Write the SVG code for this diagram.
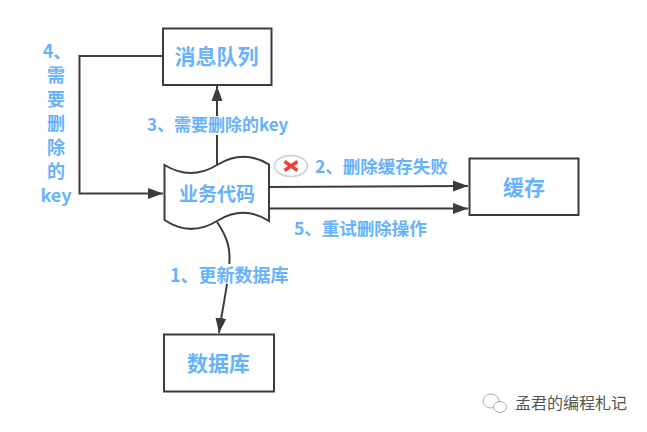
<svg xmlns="http://www.w3.org/2000/svg" width="647" height="432" viewBox="0 0 647 432">
<style>
.box{fill:#fff;stroke:#3c3c3c;stroke-width:2}
.ln{fill:none;stroke:#3c3c3c;stroke-width:2}
text{font-family:"Noto Sans CJK SC","Liberation Sans",sans-serif;fill:#66b2ff}
.n{font-size:21px;font-weight:700;text-anchor:middle}
.l{font-size:17px;font-weight:700}
.v{font-size:18px;font-weight:700;text-anchor:middle}
</style>
<defs>
<marker id="a" markerUnits="userSpaceOnUse" markerWidth="16" markerHeight="12" refX="15" refY="6" orient="auto"><path d="M0 0.500L15 6L0 11.500z" fill="#3c3c3c"/></marker>
</defs>
<rect width="647" height="432" fill="#fff"/>
<g id="connectors">
<path class="ln" marker-end="url(#a)" d="M217 165V86"/>
<path class="ln" marker-end="url(#a)" d="M162 56H79.500V193.500H163"/>
<path class="ln" marker-end="url(#a)" d="M269 187L468 186"/>
<path class="ln" marker-end="url(#a)" d="M269 208.500L468 208.500"/>
<path class="ln" marker-end="url(#a)" d="M217 222C228 238 231 250 229 268C227 290 222 310 219 333"/>
</g>
<g id="queue"><rect class="box" x="163" y="28.500" width="108.500" height="56.500"/><text class="n" x="216.500" y="64">消息队列</text></g>
<g id="cache"><rect class="box" x="469.500" y="158.500" width="109" height="56.500"/><text class="n" x="524" y="195">缓存</text></g>
<g id="db"><rect class="box" x="164" y="334.500" width="110" height="57"/><text class="n" x="218.500" y="371">数据库</text></g>
<g id="code"><path class="box" d="M164.500 165C181 175 199 176 217 165C235 154 252 154 269 164.500V221C252 210 235 210 217 221C199 232 181 231 164.500 220Z"/><text class="n" x="217" y="201" style="font-size:19px">业务代码</text></g>
<g id="fail"><ellipse cx="291" cy="166" rx="16.500" ry="10.500" fill="#fff" stroke="#c4cfd2" stroke-width="1.500"/><path d="M284.500 161.500L297.500 170.500M297.500 161.500L284.500 170.500" stroke="#f04134" stroke-width="3.500" fill="none"/></g>
<g id="labels">
<rect x="147" y="116" width="141" height="19" fill="#fff"/>
<rect x="170" y="264" width="118" height="20" fill="#fff"/>
<text class="l" x="147" y="131">3、需要删除的key</text>
<text class="l" x="315" y="173" style="font-size:17.500px">2、删除缓存失败</text>
<text class="l" x="294" y="235" style="font-size:17.500px">5、重试删除操作</text>
<text class="l" x="170" y="282" style="font-size:18px">1、更新数据库</text>
<text class="v"><tspan x="57" y="58">4、</tspan><tspan x="56" y="82">需</tspan><tspan x="56" y="106">要</tspan><tspan x="56" y="130">删</tspan><tspan x="56" y="154">除</tspan><tspan x="56" y="178">的</tspan><tspan x="56" y="202">key</tspan></text>
</g>
<g id="watermark"><ellipse cx="491" cy="401" rx="8" ry="7" fill="none" stroke="#aaa"/><ellipse cx="500" cy="407" rx="6.500" ry="5.500" fill="#fff" stroke="#aaa"/><text x="515" y="409" style="font-size:16px;fill:#555">孟君的编程札记</text></g>
</svg>
